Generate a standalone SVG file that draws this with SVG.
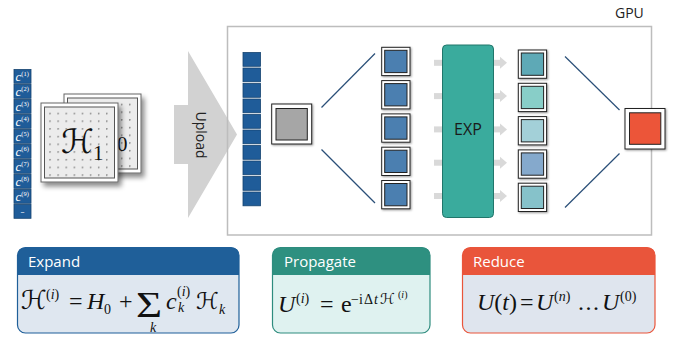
<svg xmlns="http://www.w3.org/2000/svg" width="681" height="340" viewBox="0 0 681 340">
<defs>
<style>
.cell{fill:#1f5c99;stroke:#15436f;stroke-width:0.8}
.cl{font-family:"Liberation Serif","DejaVu Serif",serif;font-style:italic;fill:#fff}
.sans{font-family:"Open Sans","Noto Sans","Liberation Sans",sans-serif}
.hdr{font-family:"Open Sans","Noto Sans","Liberation Sans",sans-serif;font-size:15px;fill:#fff}
.m{font-family:"Liberation Serif","DejaVu Serif",serif;fill:#111}
.it{font-style:italic}
.cal{font-family:"DejaVu Serif","DejaVu Sans",serif;font-style:normal}
.sq{fill:#fff;stroke:#222;stroke-width:1}
.in{stroke:#222;stroke-width:1}
.ln{stroke:#2a4f78;stroke-width:1.2;fill:none}
.ga{fill:#d9d9d9}
</style>
<filter id="sh" x="-20%" y="-20%" width="150%" height="150%">
<feDropShadow dx="3" dy="4" stdDeviation="2.5" flood-color="#000" flood-opacity="0.45"/>
</filter>
<filter id="sh2" x="-20%" y="-20%" width="150%" height="150%">
<feDropShadow dx="1" dy="1" stdDeviation="0.8" flood-color="#000" flood-opacity="0.4"/>
</filter>
<pattern id="dots" x="49.3" y="112.7" width="8.1" height="7.7" patternUnits="userSpaceOnUse">
<circle cx="0.7" cy="0.7" r="0.9" fill="#8a8a8a"/>
</pattern>
<pattern id="dots2" x="72.3" y="103.7" width="8.1" height="7.7" patternUnits="userSpaceOnUse">
<circle cx="0.7" cy="0.7" r="0.9" fill="#8a8a8a"/>
</pattern>
</defs>

<!-- coefficient column -->
<g id="coeffs">
<rect class="cell" x="14" y="69.5" width="17" height="13.8"/>
<rect class="cell" x="14" y="84.5" width="17" height="13.8"/>
<rect class="cell" x="14" y="99.5" width="17" height="13.8"/>
<rect class="cell" x="14" y="114.5" width="17" height="13.8"/>
<rect class="cell" x="14" y="129.5" width="17" height="13.8"/>
<rect class="cell" x="14" y="144.5" width="17" height="13.8"/>
<rect class="cell" x="14" y="159.5" width="17" height="13.8"/>
<rect class="cell" x="14" y="174.5" width="17" height="13.8"/>
<rect class="cell" x="14" y="189.5" width="17" height="13.8"/>
<rect class="cell" x="14" y="204.5" width="17" height="13.8"/>
<g class="cl" font-size="13">
<text x="15.5" y="81">c<tspan font-size="6.5" font-style="normal" dy="-5">(1)</tspan></text>
<text x="15.5" y="96">c<tspan font-size="6.5" font-style="normal" dy="-5">(2)</tspan></text>
<text x="15.5" y="111">c<tspan font-size="6.5" font-style="normal" dy="-5">(3)</tspan></text>
<text x="15.5" y="126">c<tspan font-size="6.5" font-style="normal" dy="-5">(4)</tspan></text>
<text x="15.5" y="141">c<tspan font-size="6.5" font-style="normal" dy="-5">(5)</tspan></text>
<text x="15.5" y="156">c<tspan font-size="6.5" font-style="normal" dy="-5">(6)</tspan></text>
<text x="15.5" y="171">c<tspan font-size="6.5" font-style="normal" dy="-5">(7)</tspan></text>
<text x="15.5" y="186">c<tspan font-size="6.5" font-style="normal" dy="-5">(8)</tspan></text>
<text x="15.5" y="201">c<tspan font-size="6.5" font-style="normal" dy="-5">(9)</tspan></text>
</g>
<text x="22.5" y="214" font-size="8" fill="#fff" text-anchor="middle" class="sans">–</text>
</g>

<!-- Hamiltonian cards -->
<g id="card-h0">
<rect x="64" y="94" width="77" height="79" fill="#fff" stroke="#666" stroke-width="1" filter="url(#sh)"/>
<rect x="67.5" y="98" width="70" height="71" fill="#ececec" stroke="#555" stroke-width="1"/>
<rect x="70" y="101" width="66" height="67" fill="url(#dots2)"/>
<text x="86" y="145" class="m cal" font-size="33">ℋ</text>
<text x="117" y="151" class="m" font-size="21">0</text>
</g>
<g id="card-h1">
<rect x="41" y="103" width="77" height="79" fill="#fff" stroke="#666" stroke-width="1" filter="url(#sh)"/>
<rect x="44.5" y="107" width="70" height="71" fill="#ececec" stroke="#555" stroke-width="1"/>
<rect x="47" y="110" width="66" height="67" fill="url(#dots)"/>
<text x="61" y="153" class="m cal" font-size="33">ℋ</text>
<text x="93" y="160" class="m" font-size="21">1</text>
</g>

<!-- upload arrow -->
<g id="upload">
<polygon points="174,105 188,105 188,51 237,134.5 188,218 188,164 174,164" fill="#d2d2d2"/>
<text transform="translate(196,135) rotate(90)" text-anchor="middle" class="sans" font-size="14" fill="#222">Upload</text>
</g>

<!-- GPU frame -->
<g id="gpu">
<rect x="227.5" y="26.5" width="424" height="208.5" fill="none" stroke="#bdbdbd" stroke-width="1.5"/>
<text x="615" y="18" class="sans" font-size="14" fill="#222">GPU</text>
</g>

<!-- connectors -->
<g id="connectors">
<line class="ln" x1="321.5" y1="107.5" x2="375" y2="53.5"/>
<line class="ln" x1="321.5" y1="149.5" x2="375" y2="203"/>
<line class="ln" x1="565" y1="56.5" x2="619.5" y2="110"/>
<line class="ln" x1="565" y1="207.5" x2="619.5" y2="153.5"/>
<g class="ga">
<rect x="434" y="59.8" width="68" height="6"/><polygon points="500,56.8 507,62.8 500,68.8"/>
<rect x="434" y="93.1" width="68" height="6"/><polygon points="500,90.1 507,96.1 500,102.1"/>
<rect x="434" y="126.4" width="68" height="6"/><polygon points="500,123.4 507,129.4 500,135.4"/>
<rect x="434" y="159.7" width="68" height="6"/><polygon points="500,156.7 507,162.7 500,168.7"/>
<rect x="434" y="193" width="68" height="6"/><polygon points="500,190 507,196 500,202"/>
</g>
</g>

<!-- GPU coefficient column -->
<g id="gpu-coeffs">
<rect class="cell" x="243" y="52.5" width="17.5" height="13.8"/>
<rect class="cell" x="243" y="68" width="17.5" height="13.8"/>
<rect class="cell" x="243" y="83.5" width="17.5" height="13.8"/>
<rect class="cell" x="243" y="99" width="17.5" height="13.8"/>
<rect class="cell" x="243" y="114.5" width="17.5" height="13.8"/>
<rect class="cell" x="243" y="130" width="17.5" height="13.8"/>
<rect class="cell" x="243" y="145.5" width="17.5" height="13.8"/>
<rect class="cell" x="243" y="161" width="17.5" height="13.8"/>
<rect class="cell" x="243" y="176.5" width="17.5" height="13.8"/>
<rect class="cell" x="243" y="192" width="17.5" height="13.8"/>
</g>

<g id="node-h">
<rect class="sq" x="271.7" y="104" width="40" height="40" filter="url(#sh2)"/>
<rect class="in" x="276" y="108.5" width="31.3" height="31.5" fill="#a6a6a6"/>
</g>

<g id="node-h-1"><rect class="sq" x="381.7" y="47.3" width="28.3" height="28.3" filter="url(#sh2)"/><rect class="in" x="384.7" y="50.3" width="22.3" height="22.3" fill="#4b7fb0"/></g>
<g id="node-h-2"><rect class="sq" x="381.7" y="80.6" width="28.3" height="28.3" filter="url(#sh2)"/><rect class="in" x="384.7" y="83.6" width="22.3" height="22.3" fill="#4b7fb0"/></g>
<g id="node-h-3"><rect class="sq" x="381.7" y="113.9" width="28.3" height="28.3" filter="url(#sh2)"/><rect class="in" x="384.7" y="116.9" width="22.3" height="22.3" fill="#4b7fb0"/></g>
<g id="node-h-4"><rect class="sq" x="381.7" y="147.2" width="28.3" height="28.3" filter="url(#sh2)"/><rect class="in" x="384.7" y="150.2" width="22.3" height="22.3" fill="#4b7fb0"/></g>
<g id="node-h-5"><rect class="sq" x="381.7" y="180.5" width="28.3" height="28.3" filter="url(#sh2)"/><rect class="in" x="384.7" y="183.5" width="22.3" height="22.3" fill="#4b7fb0"/></g>

<g id="exp">
<rect x="442.5" y="45" width="51" height="172.5" rx="4" fill="#3aab9d" stroke="#21766b" stroke-width="1"/>
<text x="468" y="135" text-anchor="middle" class="sans" font-size="16" fill="#1a1a1a">EXP</text>
</g>

<g id="node-u-1"><rect class="sq" x="518.3" y="50" width="28.3" height="28.3" filter="url(#sh2)"/><rect class="in" x="521.3" y="53" width="22.3" height="22.3" fill="#5ea9b6"/></g>
<g id="node-u-2"><rect class="sq" x="518.3" y="83.3" width="28.3" height="28.3" filter="url(#sh2)"/><rect class="in" x="521.3" y="86.3" width="22.3" height="22.3" fill="#88cec8"/></g>
<g id="node-u-3"><rect class="sq" x="518.3" y="116.6" width="28.3" height="28.3" filter="url(#sh2)"/><rect class="in" x="521.3" y="119.6" width="22.3" height="22.3" fill="#a3d0d8"/></g>
<g id="node-u-4"><rect class="sq" x="518.3" y="149.9" width="28.3" height="28.3" filter="url(#sh2)"/><rect class="in" x="521.3" y="152.9" width="22.3" height="22.3" fill="#85a9cc"/></g>
<g id="node-u-5"><rect class="sq" x="518.3" y="183.2" width="28.3" height="28.3" filter="url(#sh2)"/><rect class="in" x="521.3" y="186.2" width="22.3" height="22.3" fill="#86c2ca"/></g>

<g id="node-result">
<rect class="sq" x="625" y="108.5" width="40" height="40.5" filter="url(#sh2)"/>
<rect class="in" x="629.5" y="112.8" width="31.3" height="31.5" fill="#ec5539"/>
</g>

<!-- Expand box -->
<g id="box-expand">
<rect x="17.5" y="247.5" width="221.5" height="85.5" rx="8" fill="#dfe7f0"/>
<path d="M17.5,275 V255.5 Q17.5,247.5 25.5,247.5 H231 Q239,247.5 239,255.5 V275 Z" fill="#1f5f99"/>
<rect x="17.5" y="247.5" width="221.5" height="85.5" rx="8" fill="none" stroke="#1f5f99" stroke-width="1.2"/>
<text x="28" y="267" class="hdr">Expand</text>
<g class="m" font-size="24">
<text x="21" y="309" class="cal" font-size="26">ℋ</text>
<text x="46" y="299" font-size="14">(<tspan class="it">i</tspan>)</text>
<text x="69" y="309">=</text>
<text x="87" y="309" class="it">H</text>
<text x="104" y="314" font-size="14">0</text>
<text x="119" y="309">+</text>
<text transform="translate(136,317) scale(1.4,1.1)" font-size="32">Σ</text>
<text x="150" y="332" font-size="14" class="it">k</text>
<text x="166" y="309" class="it">c</text>
<text x="177" y="296" font-size="14">(<tspan class="it">i</tspan>)</text>
<text x="178" y="312" font-size="14" class="it">k</text>
<text x="196" y="309" class="cal" font-size="23">ℋ</text>
<text x="219" y="314" font-size="14" class="it">k</text>
</g>
</g>

<!-- Propagate box -->
<g id="box-propagate">
<rect x="272.5" y="247.5" width="157.5" height="85.5" rx="8" fill="#dff2f0"/>
<path d="M272.5,275 V255.5 Q272.5,247.5 280.5,247.5 H422 Q430,247.5 430,255.5 V275 Z" fill="#2e9080"/>
<rect x="272.5" y="247.5" width="157.5" height="85.5" rx="8" fill="none" stroke="#2e8c7e" stroke-width="1.2"/>
<text x="284" y="267" class="hdr">Propagate</text>
<g class="m" font-size="24">
<text x="278" y="312" class="it">U</text>
<text x="296" y="303" font-size="14">(<tspan class="it">i</tspan>)</text>
<text x="320" y="312">=</text>
<text x="341" y="312">e</text>
<text x="351" y="304" font-size="14">−i</text>
<text x="364" y="304" font-size="14">Δ</text>
<text x="374" y="304" font-size="14" class="it">t</text>
<text x="380" y="304" font-size="15" class="cal">ℋ</text>
<text x="398" y="298" font-size="10">(<tspan class="it">i</tspan>)</text>
</g>
</g>

<!-- Reduce box -->
<g id="box-reduce">
<rect x="462.5" y="247.5" width="192.5" height="85.5" rx="8" fill="#dfe5ee"/>
<path d="M462.5,275 V255.5 Q462.5,247.5 470.5,247.5 H647 Q655,247.5 655,255.5 V275 Z" fill="#e9553b"/>
<rect x="462.5" y="247.5" width="192.5" height="85.5" rx="8" fill="none" stroke="#e9553b" stroke-width="1.2"/>
<text x="473" y="267" class="hdr">Reduce</text>
<g class="m" font-size="24">
<text x="477" y="310"><tspan class="it">U</tspan>(<tspan class="it">t</tspan>)</text>
<text x="520" y="310">=</text>
<text x="536" y="310" class="it">U</text>
<text x="554" y="301" font-size="14">(<tspan class="it">n</tspan>)</text>
<text x="578" y="310" letter-spacing="1.5">...</text>
<text x="602" y="310" class="it">U</text>
<text x="620" y="301" font-size="14">(0)</text>
</g>
</g>
</svg>
